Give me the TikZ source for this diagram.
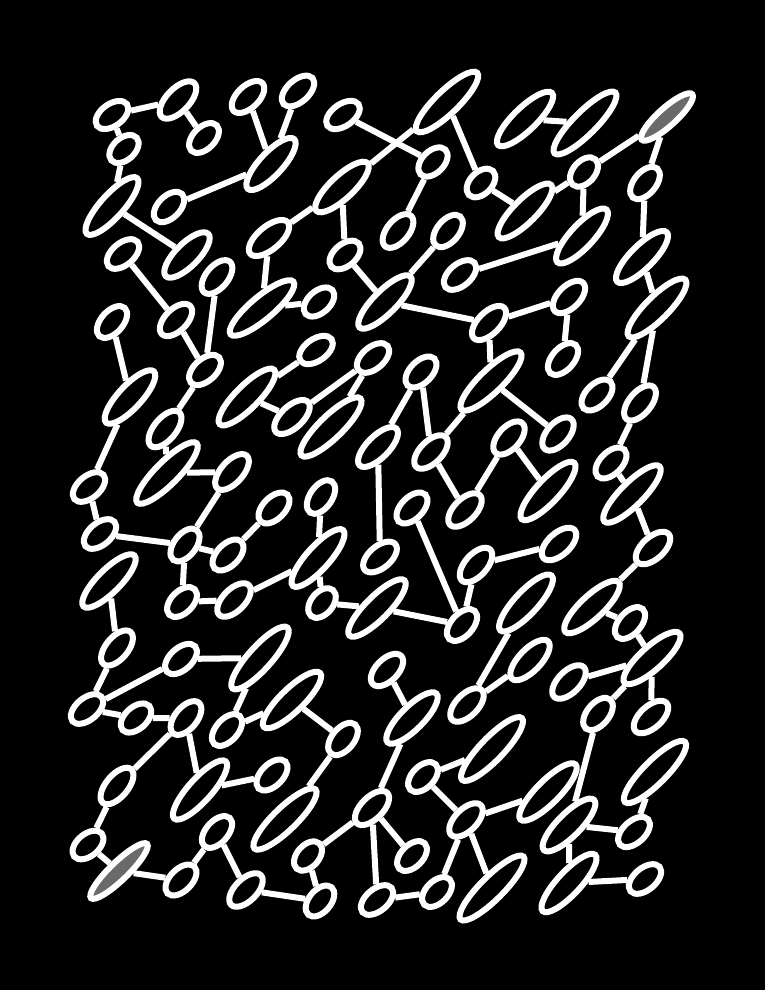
\documentclass[tikz,border=0pt]{standalone}
\usepackage{tikz}
\usetikzlibrary{shapes.geometric}
\definecolor{exitgray}{RGB}{106,106,106}
\tikzstyle{blob} = [ellipse, draw=white, line width=6pt, fill=black, inner sep=0pt]
\tikzstyle{goal} = [blob, fill=exitgray]
\tikzstyle{link} = [draw=white, line width=6pt]

\begin{document}
\begin{tikzpicture}[x=1pt, y=-1pt]
\fill[black] (0,0) rectangle (765,990);

% cells of the maze: name/x/y/width/height/angle
\foreach \n/\x/\y/\w/\h/\a in {
  c1/112/115/37/22/36, c2/178/100/47/23/46, c3/204/138/36/22/45, c4/248/97/40/22/44,
  c5/298/91/39/22/42, c6/124/149/34/22/42, c7/112/206/75/23/48, c8/169/207/37/22/45,
  c9/271/164/68/23/47, c10/342/187/70/23/43, c11/123/254/38/22/40, c12/187/255/60/23/45,
  c13/217/277/40/22/50, c14/269/238/49/23/40, c15/262/308/82/23/40, c16/345/255/36/22/40,
  c17/319/302/36/22/42, c18/343/115/38/22/35, c19/112/322/38/22/48, c20/176/320/40/22/45,
  c21/447/102/84/23/44, c22/525/119/75/23/44, c23/585/123/86/23/45,
  c25/433/162/35/22/45, c26/481/183/34/22/45, c27/584/172/34/22/48, c28/645/183/38/22/50,
  c29/525/211/74/23/45, c30/582/236/72/23/47, c31/448/231/38/22/50, c32/398/231/40/22/50,
  c33/642/257/70/23/45, c34/460/275/38/22/40, c35/657/308/80/23/45, c36/569/297/40/22/45,
  c37/489/323/43/22/45, c38/385/302/72/23/45, c39/205/370/38/22/42, c40/316/350/38/22/35,
  c41/373/358/38/22/40, c42/130/397/70/23/47, c43/165/429/44/22/50, c44/167/473/84/23/45,
  c45/247/397/77/23/45, c46/292/417/44/22/43, c47/331/427/82/23/44, c48/378/447/52/22/45,
  c49/89/487/38/22/40, c50/232/472/44/22/48, c51/274/508/38/22/45, c52/321/497/38/22/55,
  c53/100/534/38/22/40, c54/185/545/38/22/52, c55/228/555/38/22/45, c56/318/558/75/23/48,
  c57/380/557/40/22/40, c58/109/581/72/23/45, c59/182/602/36/22/45, c60/234/600/42/22/45,
  c61/322/603/34/22/50, c62/377/608/78/23/45, c63/421/372/38/22/45, c64/491/381/82/23/44,
  c65/563/359/38/22/48, c66/597/395/38/22/45, c67/640/403/42/22/50, c68/431/452/42/22/45,
  c69/509/438/40/22/48, c70/558/434/40/22/48, c71/611/463/38/22/45, c72/632/494/78/23/45,
  c73/465/510/42/22/45, c74/548/491/77/23/47, c75/412/508/38/22/45, c76/653/548/42/22/42,
  c77/559/544/42/22/42, c78/476/565/42/22/48, c79/462/625/38/22/48, c80/526/603/75/23/47,
  c81/592/607/73/23/43, c82/630/623/38/22/48, c83/117/648/42/22/50, c84/181/659/38/22/42,
  c85/260/658/82/23/48, c86/87/709/38/22/40, c87/136/718/36/22/42, c88/186/718/40/22/50,
  c89/227/730/38/22/48, c90/292/700/78/23/44, c91/343/739/38/22/50, c92/117/786/44/22/50,
  c93/200/790/77/23/48, c94/272/775/38/22/45, c95/285/819/85/23/44, c96/88/845/36/22/40,
  c98/217/832/38/22/48, c99/181/880/38/22/45, c100/246/890/42/22/45, c101/320/901/36/22/50,
  c102/308/856/34/22/48, c103/372/808/43/22/45, c104/377/900/38/22/40, c105/387/670/40/22/45,
  c106/412/718/69/23/45, c107/467/705/42/22/45, c108/530/660/52/22/46, c109/569/682/42/22/45,
  c110/652/658/74/23/42, c111/598/714/38/22/50, c112/651/717/42/22/42, c113/492/749/86/23/46,
  c114/423/777/36/22/45, c115/548/792/78/23/45, c116/655/772/85/23/45, c117/466/820/42/22/45,
  c118/569/825/71/23/45, c119/634/832/38/22/42, c120/412/856/36/22/45, c121/437/892/36/22/45,
  c122/492/888/89/23/45, c123/569/883/77/23/47, c124/645/879/38/22/40}
  \node[blob, minimum width=\w pt, minimum height=\h pt, rotate=\a] (\n) at (\x,\y) {};

% the two grey ends
\node[goal, minimum width=68pt, minimum height=18pt, rotate=42] (c24) at (667,117) {};
\node[goal, minimum width=78pt, minimum height=18pt, rotate=44] (c97) at (119,871) {};

% passages
\foreach \p/\q in {
  c1/c2, c2/c3, c1/c6, c6/c7, c4/c9, c5/c9, c9/c8, c7/c12, c11/c20, c13/c39,
  c20/c39, c14/c15, c14/c10, c10/c16, c16/c38, c19/c42, c18/c25, c10/c21,
  c15/c17, c31/c38,
  c21/c26, c25/c32, c26/c29, c22/c23, c27/c24, c27/c29, c27/c30, c24/c28,
  c28/c33, c33/c35, c30/c34, c38/c37, c37/c36, c36/c65, c37/c64, c35/c66, c35/c67,
  c42/c49, c39/c43, c43/c44, c44/c50, c45/c46, c46/c41, c45/c40, c49/c53,
  c53/c54, c50/c54, c54/c55, c55/c51, c52/c56, c54/c59, c59/c60, c60/c56,
  c56/c61, c61/c62, c48/c57, c58/c83, c41/c47, c63/c48, c64/c68,
  c63/c68, c64/c70, c68/c73, c69/c74, c69/c73, c67/c71, c71/c72, c72/c76,
  c75/c79, c78/c77, c78/c79, c62/c79, c81/c82, c81/c76, c82/c110,
  c83/c86, c86/c84, c84/c85, c86/c87, c87/c88, c85/c89, c88/c92, c88/c93,
  c93/c94, c90/c91, c91/c95, c92/c96, c96/c97, c97/c99, c99/c98, c98/c100,
  c100/c101, c102/c101, c102/c103, c103/c104, c89/c90,
  c105/c106, c107/c108, c107/c80, c109/c110, c110/c112, c110/c111, c111/c118,
  c114/c113, c114/c117, c117/c115, c117/c122, c117/c121, c103/c120, c104/c121,
  c118/c119, c116/c119, c123/c124, c118/c123, c106/c103}
  \path[link] (\p) -- (\q);

\end{tikzpicture}
\end{document}
